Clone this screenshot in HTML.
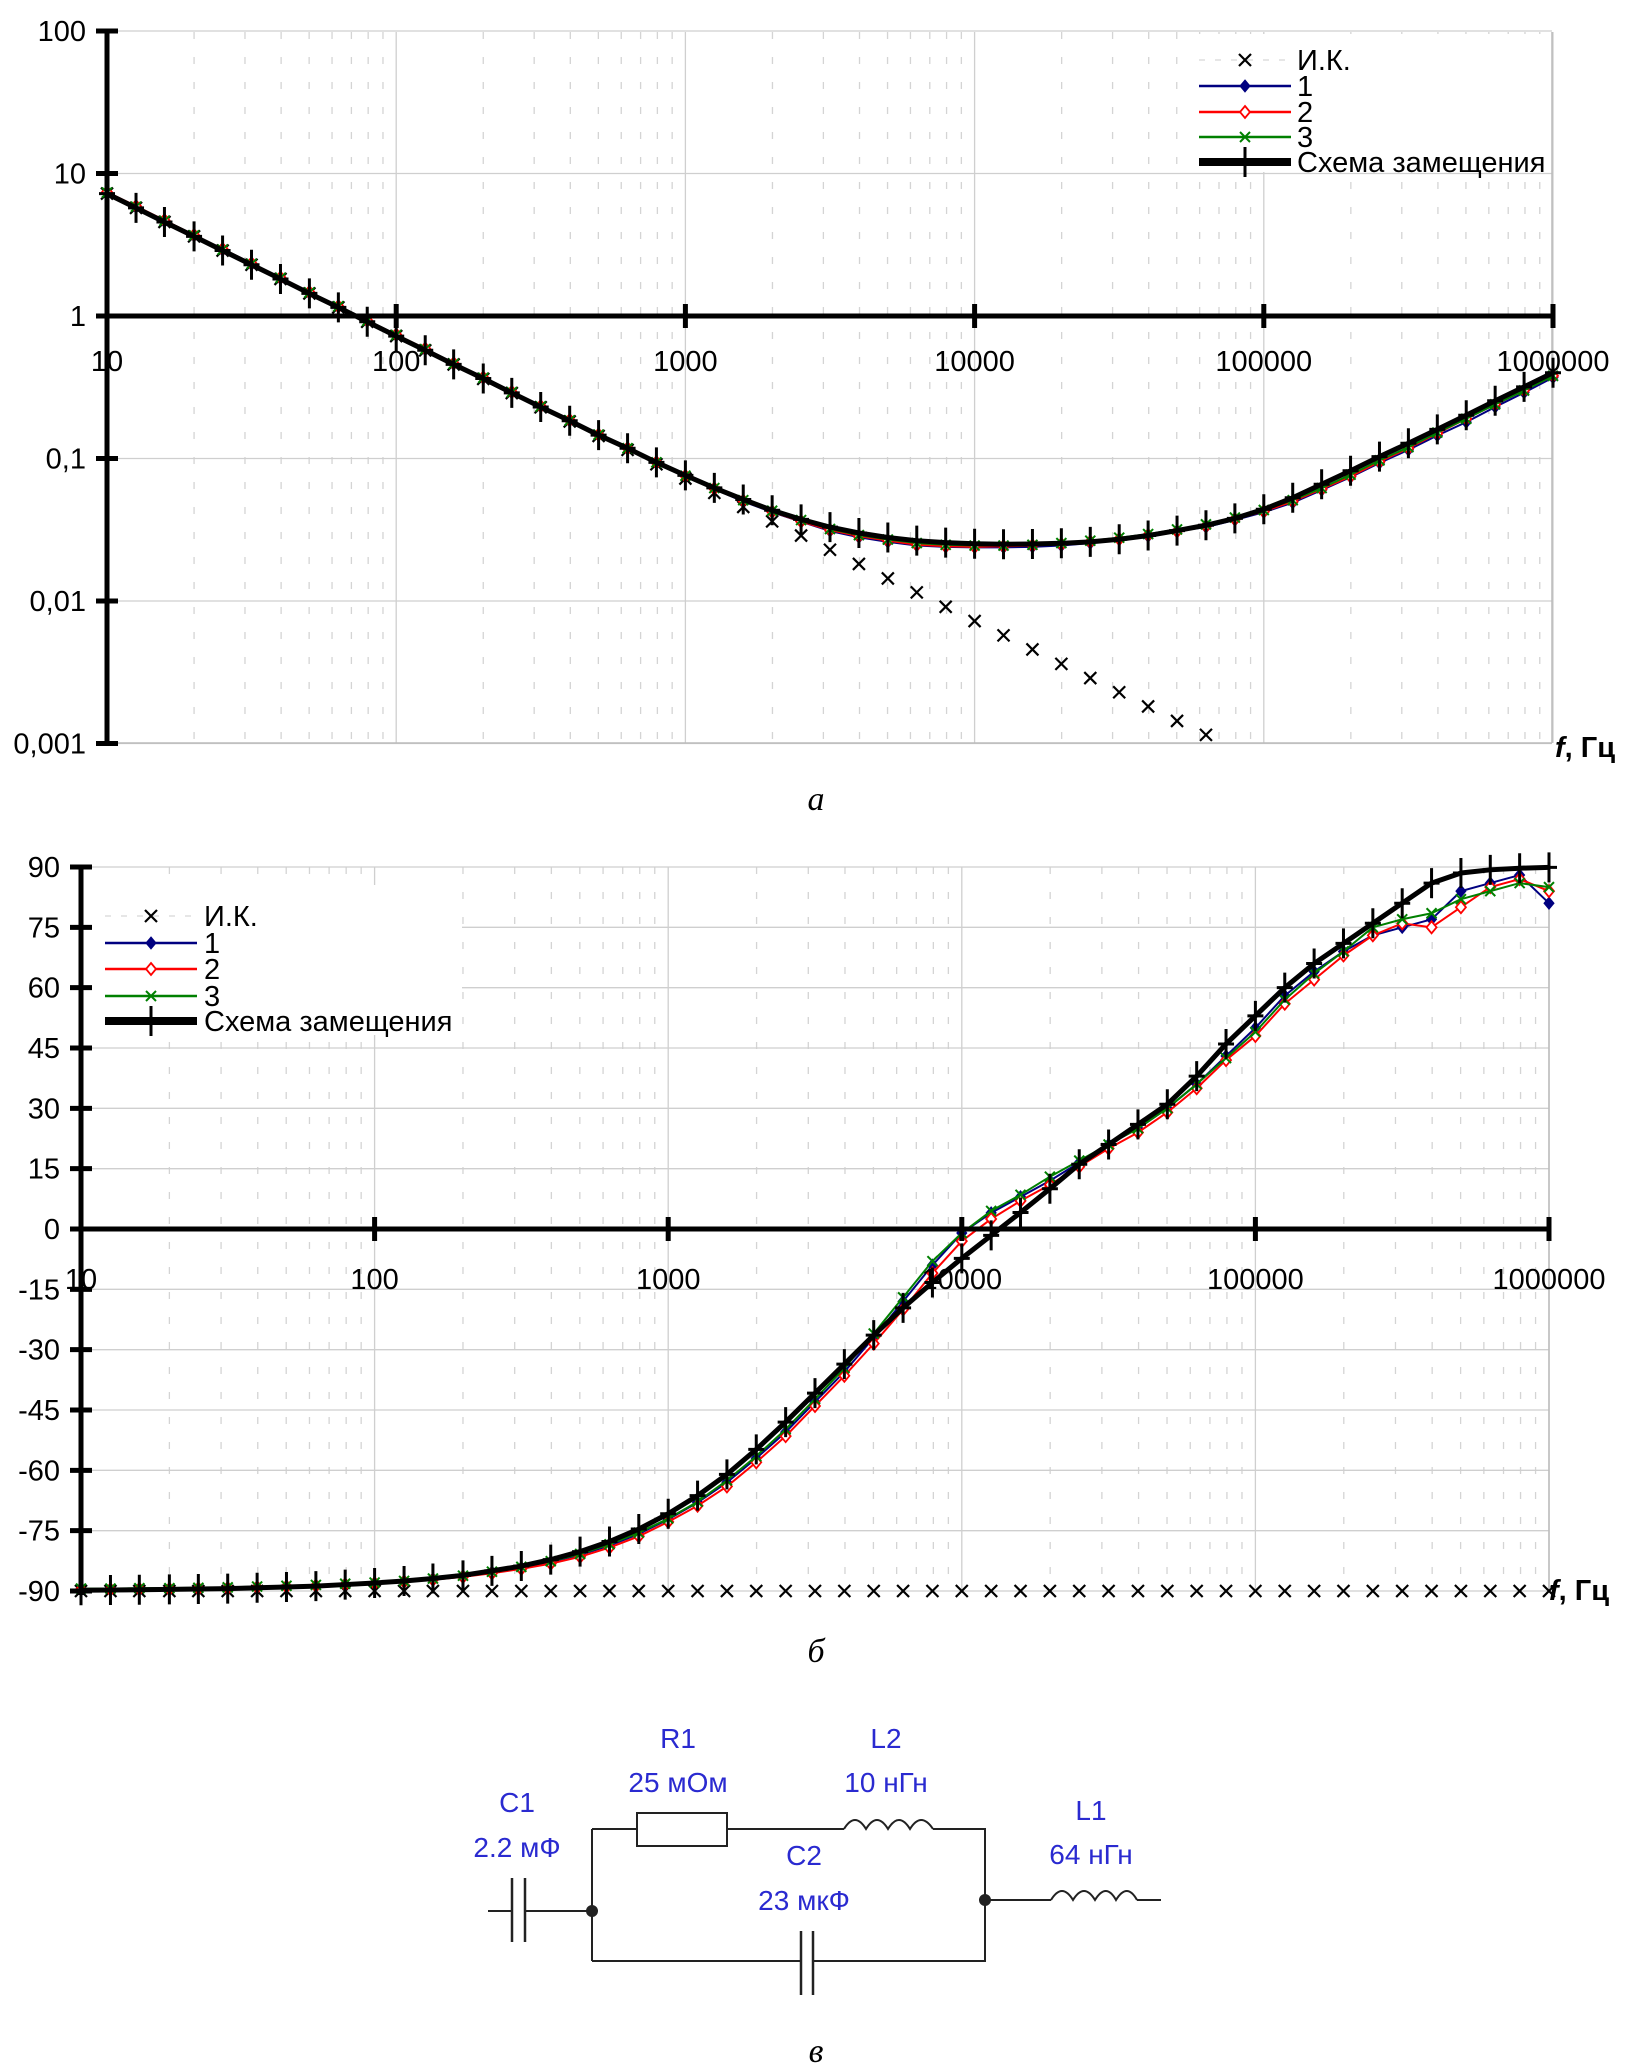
<!DOCTYPE html>
<html><head><meta charset="utf-8"><style>
html,body{margin:0;padding:0;background:#fff}
svg{display:block}
text{font-family:"Liberation Sans",Arial,sans-serif}
.cap{font-family:"Liberation Serif",serif;font-style:italic}
.cir{font-family:"Liberation Sans",sans-serif;fill:#2a2ad0}
</style></head><body>
<svg id="s" width="1645" height="2069" viewBox="0 0 1645 2069" xmlns="http://www.w3.org/2000/svg">
<g id="top"></g>
<g id="bot"></g>
<text class="cap" x="816" y="810" font-size="34" text-anchor="middle">а</text>
<text class="cap" x="816" y="1662" font-size="34" text-anchor="middle">б</text>
<text class="cap" x="816" y="2062" font-size="34" text-anchor="middle">в</text>
<g id="circuit" stroke="#222" stroke-width="2" fill="none">
 <path d="M488 1911 H512 M525 1911 H592 M592 1829 V1961 M592 1829 H637 M727 1829 H844 M933 1829 H985 V1961 H813 M801 1961 H592 M985 1900 H1051 M1137 1900 H1161"/>
 <path d="M512 1878 V1942 M525 1878 V1942 M801 1931 V1995 M813 1931 V1995" stroke-width="2.5"/>
 <rect x="637" y="1813" width="90" height="33"/>
 <path d="M844 1829 q11 -18 22 0 q11 -18 22 0 q11 -18 22 0 q11 -18 23 0"/>
 <path d="M1051 1900 q11 -18 22 0 q11 -18 22 0 q11 -18 21 0 q11 -18 21 0"/>
 <circle cx="592" cy="1911" r="5" fill="#222"/><circle cx="985" cy="1900" r="5" fill="#222"/>
</g>
<g font-size="28" text-anchor="middle">
 <text class="cir" x="678" y="1748">R1</text>
 <text class="cir" x="678" y="1792">25 мОм</text>
 <text class="cir" x="886" y="1748">L2</text>
 <text class="cir" x="886" y="1792">10 нГн</text>
 <text class="cir" x="517" y="1812">C1</text>
 <text class="cir" x="517" y="1857">2.2 мФ</text>
 <text class="cir" x="804" y="1865">C2</text>
 <text class="cir" x="804" y="1910">23 мкФ</text>
 <text class="cir" x="1091" y="1820">L1</text>
 <text class="cir" x="1091" y="1864">64 нГн</text>
</g>
</svg>
<script>
const freq=[10,12.6,15.8,20,25.1,31.6,39.8,50.1,63.1,79.4,100,126,158,200,251,316,398,501,631,794,1000,1259,1585,1995,2512,3162,3981,5012,6310,7943,10000,12589,15849,19953,25119,31623,39811,50119,63096,79433,100000,125893,158489,199526,251189,316228,398107,501187,630957,794328,1000000];
const magIK=[7.23,5.74,4.57,3.62,2.88,2.29,1.82,1.44,1.15,0.911,0.723,0.574,0.457,0.362,0.288,0.229,0.182,0.144,0.115,0.0911,0.0723,0.0574,0.0457,0.0362,0.0288,0.0229,0.0182,0.0144,0.0115,0.0091,0.00723,0.00574,0.00457,0.00362,0.00288,0.00229,0.00182,0.00144,0.00115];
const magModel=[7.23,5.74,4.57,3.62,2.88,2.29,1.82,1.44,1.15,0.911,0.723,0.575,0.458,0.364,0.289,0.230,0.184,0.146,0.118,0.094,0.0761,0.0622,0.0516,0.0433,0.0374,0.0330,0.0300,0.0279,0.0265,0.0257,0.0252,0.0250,0.0251,0.0254,0.0260,0.0271,0.0288,0.0312,0.034,0.038,0.044,0.053,0.066,0.082,0.103,0.128,0.160,0.201,0.254,0.318,0.400];
const mag1=[7.3,5.8,4.6,3.65,2.9,2.3,1.83,1.45,1.16,0.92,0.73,0.58,0.46,0.366,0.29,0.231,0.184,0.146,0.117,0.093,0.075,0.061,0.050,0.042,0.036,0.031,0.028,0.026,0.0245,0.024,0.0238,0.0238,0.024,0.0245,0.0255,0.027,0.0285,0.031,0.033,0.037,0.042,0.049,0.060,0.074,0.093,0.115,0.145,0.18,0.23,0.29,0.37];
const mag2=[7.4,5.9,4.7,3.7,2.95,2.34,1.86,1.47,1.17,0.93,0.74,0.59,0.465,0.37,0.293,0.233,0.186,0.147,0.118,0.094,0.0755,0.0615,0.0505,0.0423,0.0362,0.0315,0.0285,0.0265,0.0248,0.0242,0.0240,0.0242,0.0245,0.025,0.026,0.0272,0.029,0.0308,0.0335,0.0375,0.0425,0.050,0.061,0.075,0.095,0.118,0.15,0.19,0.24,0.30,0.38];
const mag3=[7.35,5.85,4.65,3.68,2.92,2.32,1.85,1.46,1.17,0.925,0.735,0.585,0.462,0.368,0.292,0.232,0.185,0.147,0.118,0.094,0.0758,0.062,0.051,0.043,0.037,0.032,0.029,0.027,0.0255,0.0248,0.0245,0.0245,0.0248,0.0255,0.0265,0.0278,0.0295,0.0318,0.0345,0.0385,0.0435,0.051,0.062,0.077,0.097,0.12,0.152,0.19,0.24,0.30,0.38];
const phIK=[-90,-90,-90,-90,-90,-90,-90,-90,-90,-90,-90,-90,-90,-90,-90,-90,-90,-90,-90,-90,-90,-90,-90,-90,-90,-90,-90,-90,-90,-90,-90,-90,-90,-90,-90,-90,-90,-90,-90,-90,-90,-90,-90,-90,-90,-90,-90,-90,-90,-90,-90];
const phModel=[-89.8,-89.75,-89.7,-89.6,-89.5,-89.4,-89.2,-89.0,-88.8,-88.4,-88.0,-87.5,-86.9,-86.1,-85.0,-83.8,-82.2,-80.2,-77.7,-74.6,-70.8,-66.3,-61.0,-54.8,-48.0,-40.8,-33.6,-26.4,-19.6,-13.3,-7.3,-1.6,4.1,10.0,16.1,21,26,31,38,46,53,60,66,71,76,81,86,88.5,89.3,89.7,89.9];
const ph1=[-89.5,-89.5,-89.4,-89.4,-89.3,-89.2,-89,-88.8,-88.6,-88.3,-88,-87.6,-87,-86.3,-85.3,-84.2,-82.8,-81,-78.7,-75.8,-72.2,-68,-63,-57,-50.5,-43,-35.5,-27,-18,-9,-1,4,8,12,16.5,21,25,30,36,43,50,58,64,69,73,75,77,84,86,88,81];
const ph2=[-89.6,-89.6,-89.5,-89.5,-89.4,-89.3,-89.1,-88.9,-88.7,-88.4,-88.1,-87.7,-87.2,-86.5,-85.6,-84.5,-83.2,-81.5,-79.2,-76.4,-72.8,-68.8,-64,-58,-51.5,-44,-36.5,-28.5,-20,-11,-3,2.5,7,11,15.5,20,24,29,35,42,48,56,62,68,73,76,75,80,85,87,84];
const ph3=[-89.4,-89.4,-89.3,-89.3,-89.2,-89.1,-88.9,-88.7,-88.5,-88.2,-87.9,-87.5,-86.9,-86.2,-85.2,-84.0,-82.6,-80.8,-78.4,-75.5,-72,-67.8,-62.5,-56.5,-49.8,-42.3,-34.6,-26,-17,-8,-1,4.5,8.5,13,17,21,25,30,36,42.5,49,57,63.5,69,75,77,78.5,82,84,86,85];
const magTicks=["100","10","1","0,1","0,01","0,001"];
const magTickVals=[100,10,1,0.1,0.01,0.001];
const phTicks=["90","75","60","45","30","15","0","-15","-30","-45","-60","-75","-90"];
const phTickVals=[90,75,60,45,30,15,0,-15,-30,-45,-60,-75,-90];
const decLabels=["10","100","1000","10000","100000","1000000"];
const decVals=[10,100,1000,10000,100000,1000000];

const NS="http://www.w3.org/2000/svg";
function mk(p,tag,a){const e=document.createElementNS(NS,tag);for(const k in a)e.setAttribute(k,a[k]);p.appendChild(e);return e;}
const xT=f=>107+(Math.log10(f)-1)*289.2;
const yT=v=>316-Math.log10(v)*142.5;
const xB=f=>81+(Math.log10(f)-1)*293.6;
const yB=p=>1229-p*(362/90);

function grid(g,xs,x0,x1,y0,y1,hvals,ys){
  for(let d=10;d<1e6;d*=10)for(let m=2;m<10;m++){const x=xs(d*m);
    const l=mk(g,'line',{x1:x,x2:x,y1:y0,y2:y1,stroke:'#d4d4d4','stroke-width':1.3,'stroke-dasharray':'7,18'});
    }
  decVals.forEach(d=>{const x=xs(d);const l=mk(g,'line',{x1:x,x2:x,y1:y0,y2:y1,stroke:'#cfcfcf','stroke-width':1.3});
    });
  hvals.forEach(v=>{const y=ys(v);const l=mk(g,'line',{x1:x0,x2:x1,y1:y,y2:y,stroke:'#cfcfcf','stroke-width':1.3});
    });
}
function marker(g,type,x,y,col){
  let e;
  if(type==='diamond'||type==='hdiamond'){e=mk(g,'path',{d:`M${x} ${y-6}L${x+5} ${y}L${x} ${y+6}L${x-5} ${y}Z`,fill:type==='diamond'?col:'#fff',stroke:col,'stroke-width':type==='diamond'?1:1.8});}
  else if(type==='x'){e=mk(g,'path',{d:`M${x-5} ${y-5}L${x+5} ${y+5}M${x+5} ${y-5}L${x-5} ${y+5}`,stroke:col,'stroke-width':2});}
  else if(type==='bx'){e=mk(g,'path',{d:`M${x-6} ${y-6}L${x+6} ${y+6}M${x+6} ${y-6}L${x-6} ${y+6}`,stroke:'#000','stroke-width':2.2});}
  else {e=mk(g,'path',{d:`M${x} ${y-15}V${y+15}M${x-8} ${y}H${x+8}`,stroke:'#000','stroke-width':3});}
  
  
}
function series(g,name,vals,xs,ys,col,w,mtype,line){
  const sg=mk(g,'g',{});
  
  
  const pts=[];vals.forEach((v,i)=>{if(v!=null)pts.push([xs(freq[i]),ys(v)]);});
  if(line){const p=mk(sg,'polyline',{points:pts.map(q=>q.join(',')).join(' '),fill:'none',stroke:col,'stroke-width':w,'stroke-linejoin':'round'});
    }
  pts.forEach(q=>marker(sg,mtype,q[0],q[1],col));
}
function legend(g,x,ys,tx){
  const items=[["И.К.","bx","#000",0],["1","diamond","#000080",2.5],["2","hdiamond","#ff0000",2.5],["3","x","#008000",2.5],["Схема замещения","plus","#000",8]];
  items.forEach((it,i)=>{const y=ys[i];const lg=mk(g,'g',{});
    
    if(it[3]>0)mk(lg,'line',{x1:x,x2:x+92,y1:y,y2:y,stroke:it[2],'stroke-width':it[3]});
    else mk(lg,'line',{x1:x,x2:x+92,y1:y,y2:y,stroke:'#ccc','stroke-width':1,'stroke-dasharray':'6,10'});
    marker(lg,it[1],x+46,y,it[2]);
    const t=mk(lg,'text',{x:tx,y:y+10,'font-size':29});t.textContent=it[0];});
}
// TOP
(function(){
  const g=document.getElementById('top');
  grid(g,xT,107,1552,32,743,magTickVals,yT);
  mk(g,'line',{x1:1552,x2:1552,y1:32,y2:743,stroke:'#bbb','stroke-width':1.5});
  mk(g,'line',{x1:107,x2:1552,y1:743,y2:743,stroke:'#bbb','stroke-width':1.5});
  mk(g,'rect',{x:1180,y:34,width:370,height:138,fill:'#fff'});
  series(g,'series-ik',magIK,xT,yT,'#000',0,'bx',false);
  series(g,'series-1',mag1,xT,yT,'#000080',2,'diamond',true);
  series(g,'series-2',mag2,xT,yT,'#ff0000',2,'hdiamond',true);
  series(g,'series-3',mag3,xT,yT,'#008000',2,'x',true);
  series(g,'series-model',magModel,xT,yT,'#000',5,'plus',true);
  mk(g,'line',{x1:107,x2:107,y1:32,y2:743,stroke:'#000','stroke-width':5});
  mk(g,'line',{x1:97,x2:1552,y1:316,y2:316,stroke:'#000','stroke-width':5});
  magTickVals.forEach((v,i)=>{const y=yT(v);mk(g,'line',{x1:96,x2:118,y1:y,y2:y,stroke:'#000','stroke-width':5});
    const t=mk(g,'text',{x:86,y:y+10,'font-size':29,'text-anchor':'end'});t.textContent=magTicks[i];
    });
  decVals.forEach((d,i)=>{const x=xT(d);mk(g,'line',{x1:x,x2:x,y1:304,y2:328,stroke:'#000','stroke-width':5});
    const t=mk(g,'text',{x:x,y:371,'font-size':29,'text-anchor':'middle'});t.textContent=decLabels[i];
    });
  const ft=mk(g,'text',{x:1555,y:757,'font-size':29,'font-weight':'bold'});ft.innerHTML='<tspan font-style="italic">f</tspan>, Гц';
  
  const lg=mk(g,'g',{});
  legend(lg,1199,[60,86,112,137,162],1297);
})();
// BOTTOM
(function(){
  const g=document.getElementById('bot');
  grid(g,xB,81,1549,867,1591,phTickVals,yB);
  mk(g,'line',{x1:1549,x2:1549,y1:867,y2:1591,stroke:'#bbb','stroke-width':1.5});
  mk(g,'rect',{x:92,y:885,width:370,height:150,fill:'#fff'});
  series(g,'series-ik',phIK,xB,yB,'#000',0,'bx',false);
  series(g,'series-1',ph1,xB,yB,'#000080',2,'diamond',true);
  series(g,'series-2',ph2,xB,yB,'#ff0000',2,'hdiamond',true);
  series(g,'series-3',ph3,xB,yB,'#008000',2,'x',true);
  series(g,'series-model',phModel,xB,yB,'#000',5,'plus',true);
  mk(g,'line',{x1:81,x2:81,y1:867,y2:1595,stroke:'#000','stroke-width':5});
  mk(g,'line',{x1:70,x2:1549,y1:1229,y2:1229,stroke:'#000','stroke-width':5});
  phTickVals.forEach((v,i)=>{const y=yB(v);mk(g,'line',{x1:70,x2:92,y1:y,y2:y,stroke:'#000','stroke-width':5});
    const t=mk(g,'text',{x:60,y:y+10,'font-size':29,'text-anchor':'end'});t.textContent=phTicks[i];
    });
  decVals.forEach((d,i)=>{const x=xB(d);mk(g,'line',{x1:x,x2:x,y1:1217,y2:1241,stroke:'#000','stroke-width':5});
    const t=mk(g,'text',{x:x,y:1289,'font-size':29,'text-anchor':'middle'});t.textContent=decLabels[i];
    });
  const ft=mk(g,'text',{x:1549,y:1600,'font-size':29,'font-weight':'bold'});ft.innerHTML='<tspan font-style="italic">f</tspan>, Гц';
  
  const lg=mk(g,'g',{});
  legend(lg,105,[916,943,969,996,1021],204);
})();
</script>
</body></html>
